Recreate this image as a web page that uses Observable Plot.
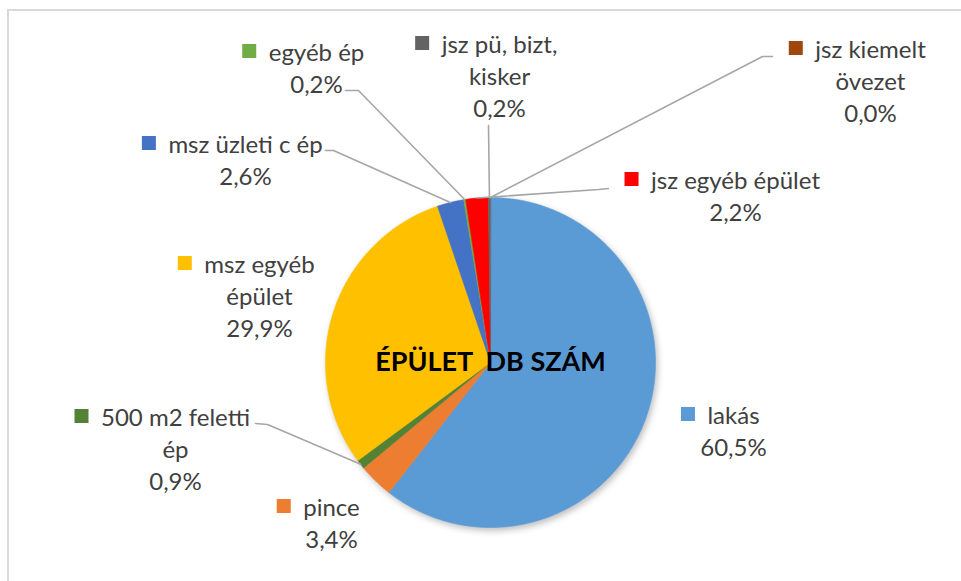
<!DOCTYPE html>
<html><head><meta charset="utf-8">
<script src="https://cdn.jsdelivr.net/npm/d3@7"></script>
<script src="https://cdn.jsdelivr.net/npm/@observablehq/plot@0.6"></script>
<style>
body{margin:0;background:#fff;}
#wrap{position:relative;width:961px;height:581px;overflow:hidden;background:#fff;}
#frame{position:absolute;left:7px;top:9px;width:2000px;height:2000px;border-left:2px solid #d9d9d9;border-top:2px solid #d9d9d9;}
#wrap svg{position:absolute;left:0;top:0;}
</style></head><body><div id="wrap"><div id="frame"></div></div>
<script>
// ---- data ----
const names = ["lakás","pince","500 m2 feletti ép","msz egyéb épület","msz üzleti c ép","egyéb ép","jsz egyéb épület","jsz pü, bizt, kisker","jsz kiemelt övezet"];
const shares = [60.5, 3.4, 0.9, 29.9, 2.6, 0.2, 2.2, 0.2, 0.0];
const colors = ["#5B9BD5","#ED7D31","#548235","#FFC000","#4472C4","#70AD47","#FF0000","#636363","#9E480E"];
const labelLines = [["lakás"],["pince"],["500 m2 feletti","ép"],["msz egyéb","épület"],["msz üzleti c ép"],["egyéb ép"],["jsz egyéb épület"],["jsz pü, bizt,","kisker"],["jsz kiemelt","övezet"]];
const title = "ÉPÜLET\u00a0 DB SZÁM";

// ---- layout (pixels) ----
const W = 961, H = 581, CX = 490, CY = 362, R = 165;
const labelAnchor = [[733,423],[331,515],[175,425],[259,272],[245,152],[316,60],[735,188],[499,52],[870,57]];
const leaderPath = [null, null, [[255,423],[267,424]], null, [[325,150],[333,150]], [[345,90],[358,90]], [[608,188],[598,189]], [[488,125],[488,125]], [[772,56],[762,56]]];
const titleAnchor = [490, 370];
const LINE_STEP = 32, FONT = 24, TITLE_FONT = 27;
const FAMILY = "Lato, 'Open Sans', sans-serif";

const ux = px => (px - CX) / R, uy = py => (CY - py) / R;
const pct = v => v.toFixed(1).replace(".", ",") + "%";

const total = d3.sum(shares);
const slices = [];
let acc = 0;
names.forEach((name, i) => {
  const a0 = acc / total * 2 * Math.PI; acc += shares[i];
  const a1 = acc / total * 2 * Math.PI;
  slices.push({name, a0, a1, mid: (a0 + a1) / 2, value: shares[i]});
});
const piePts = [];
slices.filter(s => s.value > 0).forEach(s => {
  piePts.push({name: s.name, x: 0, y: 0});
  const n = Math.max(2, Math.ceil((s.a1 - s.a0) / (Math.PI / 360)));
  for (let k = 0; k <= n; k++) {
    const a = s.a0 + (s.a1 - s.a0) * k / n;
    piePts.push({name: s.name, x: Math.sin(a), y: Math.cos(a)});
  }
});

const ctx = document.createElement("canvas").getContext("2d");
ctx.font = `${FONT}px Lato`;
const textRows = [], keys = [];
names.forEach((name, i) => {
  const [cx, b] = labelAnchor[i];
  const rows = [...labelLines[i], pct(shares[i])];
  rows.forEach((t, k) => textRows.push({t, x: ux(cx), y: uy(b + k * LINE_STEP)}));
  const w = ctx.measureText(rows[0]).width;
  const right = cx - w / 2 - 12;
  keys.push({name, x1: ux(right - 14), x2: ux(right), y1: uy(b - 2), y2: uy(b - 16)});
});

const leaderPts = [];
leaderPath.forEach((p, i) => {
  if (!p) return;
  const s = slices[i];
  p.forEach(([px, py]) => leaderPts.push({id: i, x: ux(px), y: uy(py)}));
  leaderPts.push({id: i, x: Math.sin(s.mid), y: Math.cos(s.mid)});
});

const svg = Plot.plot({
  width: W, height: H, margin: 0,
  x: {axis: null, domain: [ux(0), ux(W)]},
  y: {axis: null, domain: [uy(H), uy(0)]},
  color: {domain: names, range: colors},
  style: {background: "transparent", fontFamily: FAMILY},
  marks: [
    Plot.line(piePts, {x: "x", y: "y", z: "name", fill: "name", stroke: "name", strokeWidth: 0.6, curve: "linear-closed"}),
    Plot.line(leaderPts, {x: "x", y: "y", z: "id", stroke: "#a6a6a6", strokeWidth: 1.6}),
    Plot.rect(keys, {x1: "x1", x2: "x2", y1: "y1", y2: "y2", fill: "name"}),
    Plot.text(textRows, {x: "x", y: "y", text: "t", textAnchor: "middle", lineAnchor: "bottom", fontSize: FONT, fill: "#404040"}),
    Plot.text([title], {x: ux(titleAnchor[0]), y: uy(titleAnchor[1]), text: d => d, textAnchor: "middle", lineAnchor: "bottom", fontSize: TITLE_FONT, fontWeight: "bold", fill: "#000"})
  ]
});
const pieG = svg.querySelector('g[aria-label="line"]');
if (pieG) pieG.style.filter = "drop-shadow(2px 3px 3px rgba(0,0,0,0.25))";
document.getElementById("wrap").appendChild(svg);
</script></body></html>
